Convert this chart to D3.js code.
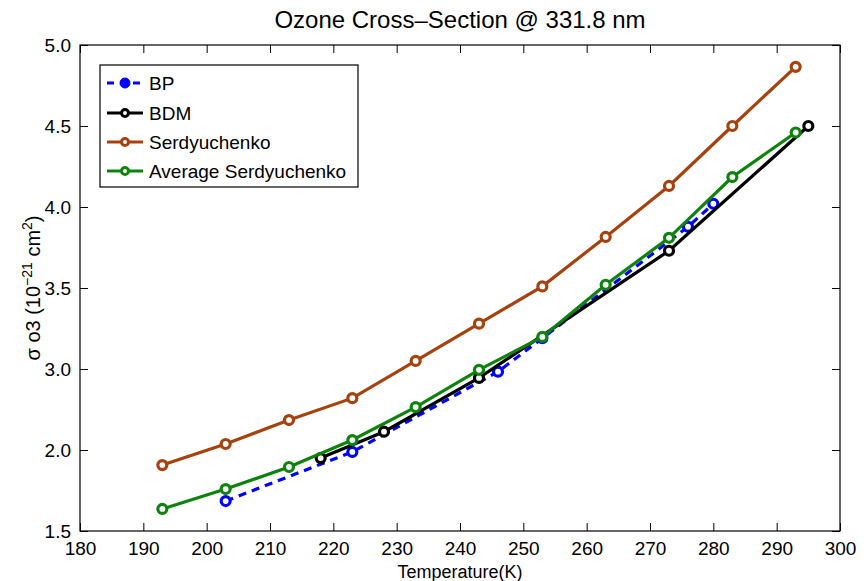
<!DOCTYPE html>
<html>
<head>
<meta charset="utf-8">
<script src="https://cdn.jsdelivr.net/npm/d3@7"></script>
<style>
  html, body { margin: 0; padding: 0; background: #fff; }
  svg { display: block; font-family: "Liberation Sans", Arial, Helvetica, sans-serif; }
</style>
</head>
<body>
<svg id="chart" width="867" height="581"></svg>
<script>
// Ozone absorption cross-section at 331.8 nm vs temperature (units of 1e-21 cm^2)
const bpTemp   = [203, 223, 246, 253, 276, 280];
const bpVal    = [1.685, 1.988, 2.967, 3.19, 3.878, 4.02];

const bdmTemp  = [218, 228, 243, 273, 295];
const bdmVal   = [1.95, 2.226, 2.89, 3.73, 4.5];

const serTemp  = [193, 203, 213, 223, 233, 243, 253, 263, 273, 283, 293];
const serVal   = [1.907, 2.074, 2.37, 2.64, 3.05, 3.28, 3.51, 3.815, 4.13, 4.5, 4.865];

const avgTemp  = [193, 203, 213, 223, 233, 243, 253, 263, 273, 283, 293];
const avgVal   = [1.636, 1.759, 1.895, 2.123, 2.53, 2.99, 3.198, 3.52, 3.81, 4.185, 4.46];

const xTicks   = [180, 190, 200, 210, 220, 230, 240, 250, 260, 270, 280, 290, 300];
const yTicks   = [1.5, 2.0, 3.0, 3.5, 4.0, 4.5, 5.0];

const seriesNames = ["BP", "BDM", "Serdyuchenko", "Average Serdyuchenko"];

const series = [
  { name: seriesNames[0], t: bpTemp,  v: bpVal,  color: "#0000ff", dash: "8,6" },
  { name: seriesNames[1], t: bdmTemp, v: bdmVal, color: "#000000", dash: null },
  { name: seriesNames[2], t: serTemp, v: serVal, color: "#a5420d", dash: null },
  { name: seriesNames[3], t: avgTemp, v: avgVal, color: "#0d830d", dash: null }
];

const svg = d3.select("#chart");
const L = 80, R = 840, T = 45, B = 531;

const x = d3.scaleLinear().domain([180, 300]).range([L, R]);
// the value axis uses evenly spaced ticks whose labels skip 2.5
const y = d3.scaleLinear().domain([1.5, 2.0, 3.0, 5.0]).range([B, 450, 369, T]);

const tickLen = 8;
const fontTick = 19;

// frame
svg.append("rect")
  .attr("x", L).attr("y", T).attr("width", R - L).attr("height", B - T)
  .attr("fill", "none").attr("stroke", "#000").attr("stroke-width", 1.2);

// bottom axis
const xAxis = svg.append("g").attr("transform", `translate(0,${B})`)
  .call(d3.axisBottom(x).tickValues(xTicks).tickSizeInner(-tickLen).tickSizeOuter(0).tickPadding(tickLen + 3));
xAxis.select(".domain").remove();
xAxis.selectAll("text").attr("font-size", fontTick).attr("font-family", null);
xAxis.selectAll("line").attr("stroke-width", 1);

// top ticks
const xTop = svg.append("g").attr("transform", `translate(0,${T})`)
  .call(d3.axisTop(x).tickValues(xTicks).tickSizeInner(-tickLen).tickSizeOuter(0).tickFormat(""));
xTop.select(".domain").remove();

// left axis
const yAxis = svg.append("g").attr("transform", `translate(${L},0)`)
  .call(d3.axisLeft(y).tickValues(yTicks).tickFormat(d3.format(".1f")).tickSizeInner(-tickLen).tickSizeOuter(0).tickPadding(tickLen + 1));
yAxis.select(".domain").remove();
yAxis.selectAll("text").attr("font-size", fontTick).attr("font-family", null);

// right ticks
const yRight = svg.append("g").attr("transform", `translate(${R},0)`)
  .call(d3.axisRight(y).tickValues(yTicks).tickSizeInner(-tickLen).tickSizeOuter(0).tickFormat(""));
yRight.select(".domain").remove();

// title
svg.append("text")
  .attr("x", (L + R) / 2).attr("y", 28)
  .attr("text-anchor", "middle").attr("font-size", 24)
  .text("Ozone Cross\u2013Section @ 331.8 nm");

// x label
svg.append("text")
  .attr("x", (L + R) / 2).attr("y", 578)
  .attr("text-anchor", "middle").attr("font-size", 18)
  .text("Temperature(K)");

// y label
const yl = svg.append("text")
  .attr("transform", `translate(40,${(T + B) / 2}) rotate(-90)`)
  .attr("text-anchor", "middle").attr("font-size", 20);
yl.append("tspan").text("\u03c3 o3 (10");
yl.append("tspan").attr("dy", -8).attr("font-size", 14).text("\u221221");
yl.append("tspan").attr("dy", 8).text(" cm");
yl.append("tspan").attr("dy", -8).attr("font-size", 14).text("2");
yl.append("tspan").attr("dy", 8).text(")");

// series lines and markers
const line = d3.line().x(d => x(d[0])).y(d => y(d[1]));
series.forEach(s => {
  const pts = s.t.map((t, i) => [t, s.v[i]]);
  const g = svg.append("g");
  g.append("path")
    .attr("d", line(pts))
    .attr("fill", "none")
    .attr("stroke", s.color)
    .attr("stroke-width", 3.2)
    .attr("stroke-dasharray", s.dash);
  g.selectAll("circle").data(pts).join("circle")
    .attr("cx", d => x(d[0])).attr("cy", d => y(d[1]))
    .attr("r", 4.5)
    .attr("fill", "#fff")
    .attr("stroke", s.color)
    .attr("stroke-width", 3.2);
});

// legend
const lg = svg.append("g");
lg.append("rect")
  .attr("x", 100).attr("y", 65).attr("width", 258).attr("height", 122)
  .attr("fill", "#fff").attr("stroke", "#000").attr("stroke-width", 1.2);
const rowY = [83, 113, 142, 171];
series.forEach((s, i) => {
  const yy = rowY[i];
  lg.append("line")
    .attr("x1", 107).attr("x2", 143).attr("y1", yy).attr("y2", yy)
    .attr("stroke", s.color).attr("stroke-width", 3.2)
    .attr("stroke-dasharray", s.dash ? "7,6" : null);
  lg.append("circle")
    .attr("cx", 125).attr("cy", yy).attr("r", i === 0 ? 5 : 3.5)
    .attr("fill", i === 0 ? s.color : "#fff")
    .attr("stroke", s.color).attr("stroke-width", i === 0 ? 1 : 3);
  lg.append("text")
    .attr("x", 149).attr("y", yy + 7)
    .attr("font-size", 19)
    .text(s.name);
});
</script>
</body>
</html>
